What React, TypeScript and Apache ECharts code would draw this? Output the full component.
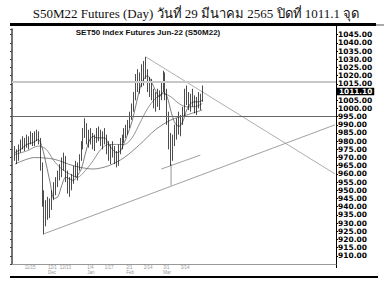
import React, { useEffect, useRef } from "react";
import * as echarts from "echarts";

const titleText = "S50M22 Futures (Day) วันที่ 29 มีนาคม 2565 ปิดที่ 1011.1 จุด";
const headerText = "SET50 Index Futures Jun-22 (S50M22)";

const dates: string[] = [
  "11/8","11/9","11/10","11/11","11/12","11/15","11/16","11/17","11/18","11/19","11/22","11/23","11/24","11/25","11/26","11/29","11/30",
  "12/1","12/2","12/3","12/7","12/8","12/9","12/13","12/14","12/15","12/16","12/17","12/20","12/21","12/22","12/23","12/24","12/27","12/28","12/29","12/30",
  "1/4","1/5","1/6","1/7","1/10","1/11","1/12","1/13","1/14","1/17","1/18","1/19","1/20","1/21","1/24","1/25","1/26","1/27","1/28","1/31",
  "2/1","2/2","2/3","2/4","2/7","2/8","2/9","2/10","2/11","2/14","2/15","2/17","2/18","2/21","2/22","2/23","2/24","2/25","2/28",
  "3/1","3/2","3/3","3/4","3/7","3/8","3/9","3/10","3/11","3/14","3/15","3/16","3/17","3/18","3/21","3/22","3/23","3/24","3/25","3/28","3/29",
];
const futureSlots = 68;

const opens = [974,971,970,976,978,977,980,978,981,983,979,984,982,980,965,945,930,940,936,942,947,951,955,960,963,967,965,958,952,955,957,962,960,965,970,978,985,988,981,983,980,978,982,985,983,979,984,980,975,972,975,973,969,971,976,979,982,986,988,991,996,1001,1008,1017,1014,1019,1016,1025,1021,1013,1016,1008,1003,1007,1004,1009,1013,1020,1008,994,980,970,981,986,990,987,994,998,1008,1005,1002,1006,1004,1001,1005,1003,1007];
const highs = [977,975,978,981,983,982,984,983,986,985,986,987,986,982,967,950,944,946,945,950,955,958,962,966,970,973,971,962,958,960,965,968,967,972,980,988,994,991,987,988,985,984,988,989,987,986,988,984,980,978,980,977,974,978,982,984,988,990,993,998,1003,1010,1021,1024,1022,1027,1029,1031.5,1024,1019,1018,1012,1010,1012,1011,1016,1023,1022,1012,998,985,984,990,994,998,996,1001,1012,1014,1010,1009,1012,1008,1007,1010,1009,1014];
const lows = [968,966,968,973,975,974,976,975,978,977,977,980,978,962,940,923,928,932,933,938,944,947,952,956,958,962,955,948,946,950,954,958,956,962,968,975,982,978,976,978,975,974,979,980,977,975,978,972,968,966,970,966,964,965,972,975,979,982,984,988,993,998,1005,1010,1009,1013,1014,1018,1010,1007,1005,1000,998,1001,999,1005,1010,1005,990,975,965,968,977,981,984,983,990,995,1002,999,998,1001,997,996,1000,999,1004];
const closes = [971,970,976,978,977,980,978,981,983,979,984,982,980,965,945,930,940,936,942,947,951,955,960,963,967,965,958,952,955,957,962,960,965,970,978,985,988,981,983,980,978,982,985,983,979,984,980,975,972,975,973,969,971,976,979,982,986,988,991,996,1001,1008,1017,1014,1019,1016,1025,1021,1013,1016,1008,1003,1007,1004,1009,1013,1020,1008,994,980,970,981,986,990,987,994,998,1008,1005,1002,1006,1004,1001,1005,1003,1007,1011.1];

// moving averages: [date index, value]
const maFast: [number, number][] = [[0,973],[3,975],[6,978],[9,979],[12,981],[14,976],[16,966],[18,955],[20,945],[22,946],[24,953],[26,958],[28,957],[30,956],[32,959],[34,963],[36,972],[38,980],[40,983],[42,982],[44,982],[46,982],[48,978],[50,975],[52,973],[54,974],[56,979],[58,985],[60,992],[62,1002],[64,1012],[66,1018],[68,1020],[70,1016],[72,1011],[74,1007],[76,1010],[78,1007],[80,998],[82,991],[84,989],[86,992],[88,999],[90,1003],[92,1004],[94,1004],[96,1005]];
const maMid: [number, number][] = [[0,972],[6,974],[12,977],[16,975],[20,968],[24,963],[28,960],[32,958],[36,962],[40,968],[44,975],[48,978],[52,978],[56,978],[60,982],[64,991],[68,1000],[72,1006],[76,1009],[80,1007],[84,1003],[88,1001],[92,1001],[96,1003]];
const maSlow: [number, number][] = [[0,966],[10,970],[20,969],[30,965],[40,963],[48,965],[56,970],[64,978],[72,987],[80,993],[88,996],[96,999]];

// drawn trend lines: [date index, value]
const downTrend: [number, number][] = [[67, 1031.5], [164, 960]];
const upTrend: [number, number][] = [[15, 923.5], [164, 990]];
const shortTrend: [number, number][] = [[75, 963], [95, 971.5]];
const dropLine: [number, number][] = [[80, 966], [80, 953]];

const supportLevel = 995;
const resistLevel = 1016;
const lastClose = 1011.1;

const yMin = 905;
const yMax = 1048.5;
const yStep = 5;
const labelLow = 910;
const labelHigh = 1045;

const labelDates = ["11/15", "12/1", "12/13", "1/4", "1/17", "2/1", "2/14", "3/1", "3/14"];
const monthNames: Record<string, string> = { "12/1": "Dec", "1/4": "Jan", "2/1": "Feb", "3/1": "Mar" };

export default function App() {
  const ref = useRef<HTMLDivElement>(null);
  useEffect(() => {
    document.body.style.margin = "0";
    if (!ref.current) return;
    const chart = echarts.init(ref.current, undefined, { renderer: "svg" });
    const categories = ["", ...dates, ...Array.from({ length: futureSlots }, () => "")];
    const shift = (pts: [number, number][]) => pts.map(([i, v]) => [i + 1, v]);
    const candleData: any[] = ["-", ...dates.map((_, i) => [opens[i], closes[i], lows[i], highs[i]])];
    const labelIdx = new Set(labelDates.map((d) => dates.indexOf(d) + 1));
    const lineS = (data: any[], color: string, width: number, smooth: boolean) => ({
      type: "line",
      data,
      yAxisIndex: 0,
      symbol: "none",
      smooth: smooth ? 0.3 : false,
      silent: true,
      lineStyle: { color, width },
      z: 3,
    });

    chart.setOption({
      animation: false,
      backgroundColor: "#fff",
      grid: { left: 12, right: 56, top: 29, bottom: 20 },
      xAxis: {
        type: "category",
        data: categories,
        boundaryGap: true,
        axisLine: { lineStyle: { color: "#999", width: 1 } },
        axisTick: {
          alignWithLabel: true,
          length: 4,
          interval: (i: number) => labelIdx.has(i),
          lineStyle: { color: "#999" },
        },
        axisLabel: {
          interval: (i: number) => labelIdx.has(i),
          formatter: (v: string) => (monthNames[v] ? v + "\n" + monthNames[v] : v),
          fontSize: 4.5,
          lineHeight: 5,
          color: "#999",
          align: "left",
          margin: 1,
          fontFamily: "Liberation Sans, Arial, sans-serif",
        },
        splitLine: { show: false },
      },
      yAxis: [
        {
          type: "value",
          position: "right",
          min: yMin,
          max: yMax,
          interval: yStep,
          axisLine: { show: true, lineStyle: { color: "#000", width: 1 } },
          axisTick: { show: true, length: 2, lineStyle: { color: "#000" } },
          axisLabel: {
            showMaxLabel: false,
            showMinLabel: false,
            formatter: (v: number) =>
              v % yStep === 0 && v >= labelLow && v <= labelHigh && v !== 1010 ? v.toFixed(2) : "",
            fontSize: 7.5,
            lineHeight: 6.5,
            fontWeight: "bold",
            color: "#000",
            margin: 2,
            fontFamily: "DejaVu Sans, Verdana, sans-serif",
          },
          splitLine: { show: false },
        },
        {
          type: "value",
          position: "left",
          min: yMin,
          max: yMax,
          interval: yStep,
          axisLine: { show: true, lineStyle: { color: "#444", width: 1.5 } },
          axisTick: { show: true, length: 2, lineStyle: { color: "#444" } },
          axisLabel: { show: false },
          splitLine: { show: false },
        },
      ],
      series: [
        {
          type: "candlestick",
          data: candleData,
          yAxisIndex: 0,
          barWidth: 1.2,
          silent: true,
          z: 4,
          itemStyle: {
            color: "#000",
            color0: "#000",
            borderColor: "#000",
            borderColor0: "#000",
            borderWidth: 0.7,
          },
          markLine: {
            silent: true,
            symbol: "none",
            animation: false,
            data: [
              { yAxis: resistLevel, lineStyle: { color: "#c8c8c8", width: 1.8, type: "solid" }, label: { show: false } },
              { yAxis: supportLevel, lineStyle: { color: "#666", width: 1, type: "solid" }, label: { show: false } },
              {
                yAxis: lastClose,
                lineStyle: { color: "rgba(0,0,0,0)", width: 1 },
                label: {
                  show: true,
                  position: "end",
                  distance: 1,
                  offset: [0, 1.3],
                  formatter: lastClose.toFixed(2),
                  backgroundColor: "#000",
                  color: "#fff",
                  fontWeight: "bold",
                  fontSize: 7.3,
                  lineHeight: 7,
                  padding: [0.5, 2, 0, 2],
                  fontFamily: "DejaVu Sans, Verdana, sans-serif",
                },
              },
            ],
          },
        },
        lineS(shift(maSlow), "#555", 0.7, true),
        lineS(shift(maMid), "#666", 0.7, true),
        lineS(shift(maFast), "#444", 0.7, true),
        lineS(shift(downTrend), "#999", 0.8, false),
        lineS(shift(upTrend), "#888", 0.8, false),
        lineS(shift(shortTrend), "#888", 0.8, false),
        lineS(shift(dropLine), "#777", 0.8, false),
      ],
      graphic: [
        {
          type: "text",
          x: 196,
          y: 13,
          style: {
            text: titleText,
            fontSize: 13,
            fontFamily: "Liberation Serif, DejaVu Serif, serif",
            fill: "#111",
            textAlign: "center",
            textVerticalAlign: "middle",
          },
        },
        { type: "rect", shape: { x: 10, y: 23, width: 366, height: 3 }, style: { fill: "#000" } },
        { type: "rect", shape: { x: 376, y: 24, width: 8, height: 2 }, style: { fill: "#aaa" } },
        { type: "line", shape: { x1: 336.5, y1: 25, x2: 336.5, y2: 268 }, style: { stroke: "#000", lineWidth: 1 } },
        { type: "rect", shape: { x: 10, y: 276, width: 368, height: 2 }, style: { fill: "#000" } },
        {
          type: "text",
          x: 148,
          y: 32,
          style: {
            text: headerText,
            fontSize: 8,
            fontWeight: "bold",
            fontFamily: "Liberation Sans, Arial, sans-serif",
            fill: "#111",
            textAlign: "center",
            textVerticalAlign: "middle",
          },
        },
      ],
    });
    return () => chart.dispose();
  }, []);
  return <div ref={ref} style={{ width: 392, height: 284 }} />;
}
